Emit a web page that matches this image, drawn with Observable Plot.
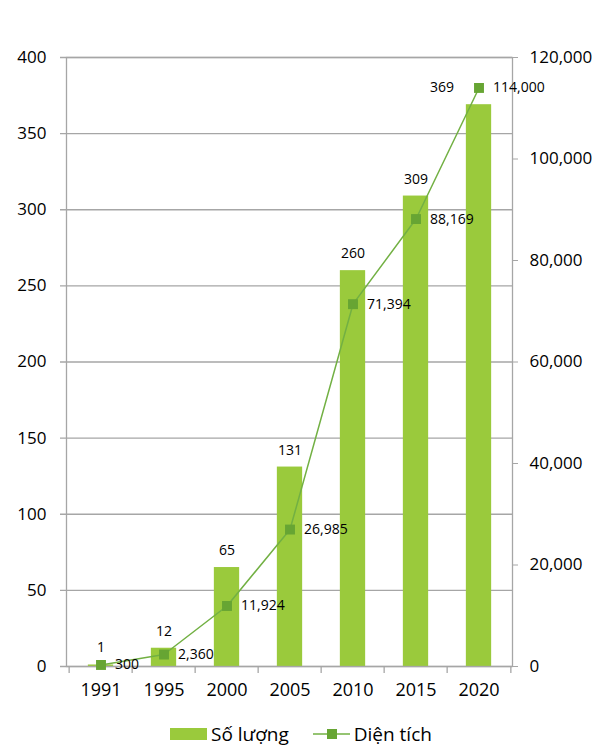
<!DOCTYPE html>
<html><head><meta charset="utf-8">
<script src="https://cdn.jsdelivr.net/npm/d3@7"></script>
<script src="https://cdn.jsdelivr.net/npm/@observablehq/plot@0.6"></script>
<style>
body{margin:0;background:#fff;font-family:"Open Sans",sans-serif;}
#legend{display:flex;align-items:center;padding-left:170px;height:44px;font-size:19px;color:#000;}
#legend .item{display:flex;align-items:center;}
#legend .sw{display:inline-block;}
</style>
</head><body>
<div id="chart"></div>
<div id="legend"></div>
<script>
const years = ["1991","1995","2000","2005","2010","2015","2020"];
const soLuong = [1, 12, 65, 131, 260, 309, 369];
const dienTich = [300, 2360, 11924, 26985, 71394, 88169, 114000];
const leftTicks = [0, 50, 100, 150, 200, 250, 300, 350, 400];
const rightTicks = [0, 20000, 40000, 60000, 80000, 100000, 120000];
const seriesNames = ["Số lượng", "Diện tích"];

const barColor = "#9aca3c", lineColor = "#72b043", markColor = "#67a533", gridColor = "#a6a6a6";
const W = 595, H = 712, mL = 66, mR = 83, mT = 57, mB = H - 666;
const ratio = 400 / 120000;
const bw = (W - mL - mR) / years.length;
const data = years.map((y, i) => ({year: y, count: soLuong[i], area: dienTich[i]}));
const fmt = d3.format(",");
const lastYear = years[years.length - 1];
const tickOpts = {insetTop: H - mT - mB, insetBottom: -7, stroke: gridColor, strokeWidth: 1.3};

const chart = Plot.plot({
  width: W, height: H,
  marginLeft: mL, marginRight: mR, marginTop: mT, marginBottom: mB,
  style: {fontFamily: "'Open Sans', sans-serif", background: "#fff", color: "#000"},
  x: {domain: years, padding: 0, label: null},
  y: {domain: [0, 400], label: null},
  marks: [
    Plot.ruleY(leftTicks, {stroke: gridColor, strokeWidth: 1.3, insetLeft: -6}),
    Plot.barY(data, {x: "year", y: "count", fill: barColor, insetLeft: (bw - 26) / 2, insetRight: (bw - 26) / 2}),
    Plot.frame({stroke: gridColor, strokeWidth: 1.3}),
    Plot.ruleX(years, {x: d => d, dx: -bw / 2, ...tickOpts}),
    Plot.ruleX(years.slice(-1), {x: d => d, dx: bw / 2, ...tickOpts}),
    Plot.axisY({anchor: "left", ticks: leftTicks, tickSize: 0, tickPadding: 20, fontSize: 17, label: null}),
    Plot.axisY({anchor: "right", ticks: rightTicks.map(v => v * ratio), tickFormat: d => fmt(Math.round(d / ratio)),
      tickSize: 5, stroke: gridColor, tickPadding: 12, fontSize: 17, label: null}),
    Plot.axisX({tickSize: 0, tickPadding: 17, fontSize: 18, label: null}),
    Plot.line(data, {x: "year", y: d => d.area * ratio, stroke: lineColor, strokeWidth: 1.5}),
    Plot.dot(data, {x: "year", y: d => d.area * ratio, symbol: "square", r: 5.6, fill: markColor, stroke: "none"}),
    Plot.text(data.filter(d => d.year !== lastYear), {x: "year", y: "count", text: d => fmt(d.count), dy: -17, fontSize: 14, fill: "#000"}),
    Plot.text(data.filter(d => d.year === lastYear), {x: "year", y: "count", text: d => fmt(d.count), dy: -17, dx: -37, fontSize: 14, fill: "#000"}),
    Plot.text(data, {x: "year", y: d => d.area * ratio, text: d => fmt(d.area), dx: 14, textAnchor: "start", fontSize: 14, fill: "#000"})
  ]
});
document.getElementById("chart").appendChild(chart);

const legend = document.getElementById("legend");
legend.innerHTML = `
<div class="item"><span class="sw" style="width:37px;height:12px;background:${barColor}"></span><span style="margin-left:4px">${seriesNames[0]}</span></div>
<div class="item" style="margin-left:24px"><svg class="sw" width="37" height="12"><line x1="0" x2="37" y1="6" y2="6" stroke="${lineColor}" stroke-width="1.5"/><rect x="14" y="1" width="10" height="10" fill="${markColor}"/></svg><span style="margin-left:4px">${seriesNames[1]}</span></div>`;
</script>
</body></html>
